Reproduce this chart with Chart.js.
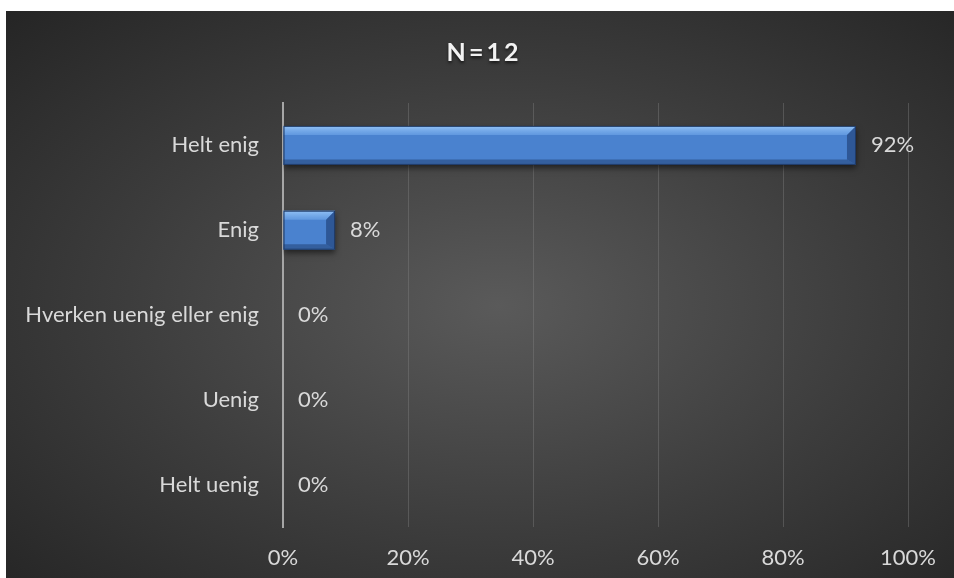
<!DOCTYPE html>
<html>
<head>
<meta charset="utf-8">
<script src="https://cdn.jsdelivr.net/npm/chart.js@4.4.0/dist/chart.umd.min.js"></script>
<style>
  html, body { margin: 0; padding: 0; background: #ffffff; }
  #wrap {
    position: absolute; left: 6px; top: 11px; width: 948px; height: 567px;
    background: radial-gradient(ellipse farthest-corner at 52% 52%, #5a5a5a 0%, #3c3c3c 55%, #252525 100%);
  }
</style>
</head>
<body>
<div id="wrap"><canvas id="chart" width="948" height="567"></canvas></div>
<script>
// kategorier och värden (andel svar i procent)
const categories = ["Helt enig", "Enig", "Hverken uenig eller enig", "Uenig", "Helt uenig"];
const values = [91.67, 8.33, 0, 0, 0];
const valueLabels = ["92%", "8%", "0%", "0%", "0%"];
const xTicks = [0, 20, 40, 60, 80, 100];
const title = "N=12";

const fontFamily = "Lato, 'Open Sans', sans-serif";
const textColor = "#d9d9d9";

// Skugga + fasad kant på staplarna
const bevelPlugin = {
  id: "bevel",
  beforeDatasetsDraw(chart) {
    const ctx = chart.ctx;
    ctx.save();
    ctx.shadowColor = "rgba(0,0,0,0.55)";
    ctx.shadowBlur = 6;
    ctx.shadowOffsetY = 3;
  },
  afterDatasetsDraw(chart) {
    const ctx = chart.ctx;
    ctx.restore();
    const meta = chart.getDatasetMeta(0);
    meta.data.forEach((bar, i) => {
      const { x, y, base, height } = bar.getProps(["x", "y", "base", "height"], true);
      const w = x - base;
      if (w < 1) return;
      const top = y - height / 2;
      const bot = y + height / 2;
      const b = Math.min(9, w / 2);
      ctx.save();
      // övre kant (ljus)
      const g = ctx.createLinearGradient(0, top, 0, top + b);
      g.addColorStop(0, "rgba(165,210,255,0.8)");
      g.addColorStop(1, "rgba(120,175,240,0.5)");
      ctx.fillStyle = g;
      ctx.beginPath();
      ctx.moveTo(base, top);
      ctx.lineTo(x, top);
      ctx.lineTo(x - b, top + b);
      ctx.lineTo(base, top + b);
      ctx.closePath();
      ctx.fill();
      // nedre kant (mörk)
      ctx.fillStyle = "rgba(30,60,110,0.5)";
      ctx.beginPath();
      ctx.moveTo(base, bot);
      ctx.lineTo(x, bot);
      ctx.lineTo(x - b, bot - b * 0.6);
      ctx.lineTo(base, bot - b * 0.6);
      ctx.closePath();
      ctx.fill();
      // högra kanten
      ctx.fillStyle = "rgba(30,65,120,0.65)";
      ctx.beginPath();
      ctx.moveTo(x, top);
      ctx.lineTo(x, bot);
      ctx.lineTo(x - b, bot - b * 0.6);
      ctx.lineTo(x - b, top + b);
      ctx.closePath();
      ctx.fill();
      ctx.strokeStyle = "#1f3a66";
      ctx.lineWidth = 1;
      ctx.strokeRect(base + 0.5, top + 0.5, w - 1, height - 1);
      ctx.restore();
    });
  },
};

// Värdeetiketter och rubrik
const labelPlugin = {
  id: "labels",
  afterDraw(chart) {
    const ctx = chart.ctx;
    const meta = chart.getDatasetMeta(0);
    ctx.save();
    ctx.font = "22px " + fontFamily;
    ctx.fillStyle = textColor;
    ctx.textAlign = "left";
    ctx.textBaseline = "middle";
    meta.data.forEach((bar, i) => {
      ctx.fillText(valueLabels[i], bar.x + 15, bar.y);
    });
    // rubrik
    ctx.font = "bold 25px " + fontFamily;
    ctx.letterSpacing = "3px";
    ctx.textAlign = "center";
    ctx.fillStyle = "#f2f2f2";
    ctx.shadowColor = "rgba(0,0,0,0.6)";
    ctx.shadowBlur = 3;
    ctx.shadowOffsetY = 2;
    ctx.fillText(title, chart.width / 2 + 4, 42);
    ctx.restore();
  },
};

const data = {
  labels: categories,
  datasets: [
    {
      data: values,
      backgroundColor: "#4a82cf",
      borderWidth: 0,
      barPercentage: 0.46,
      categoryPercentage: 1,
    },
  ],
};

const config = {
  type: "bar",
  data,
  options: {
    indexAxis: "y",
    responsive: false,
    animation: false,
    layout: { padding: { top: 92, right: 42, left: 0, bottom: 0 } },
    plugins: {
      legend: { display: false },
      tooltip: { enabled: false },
    },
    scales: {
      x: {
        min: 0,
        max: 100,
        afterBuildTicks: (axis) => (axis.ticks = xTicks.map((v) => ({ value: v }))),
        afterFit: (scale) => (scale.height = 51),
        border: { display: false },
        grid: {
          color: (c) => (c.tick && c.tick.value === 0 ? "rgba(0,0,0,0)" : "rgba(130,130,130,0.4)"),
          lineWidth: 1,
          drawTicks: false,
        },
        ticks: {
          color: textColor,
          font: { family: fontFamily, size: 22 },
          padding: 18,
          callback: (v) => v + "%",
        },
      },
      y: {
        afterFit: (scale) => (scale.width = 277),
        border: { display: true, color: "#a6a6a6", width: 2 },
        grid: { display: false, drawTicks: false },
        ticks: {
          color: textColor,
          font: { family: fontFamily, size: 22 },
          padding: 24,
        },
      },
    },
  },
  plugins: [bevelPlugin, labelPlugin],
};

const canvas = document.getElementById("chart");
const myChart = new Chart(canvas, config);
</script>
</body>
</html>
